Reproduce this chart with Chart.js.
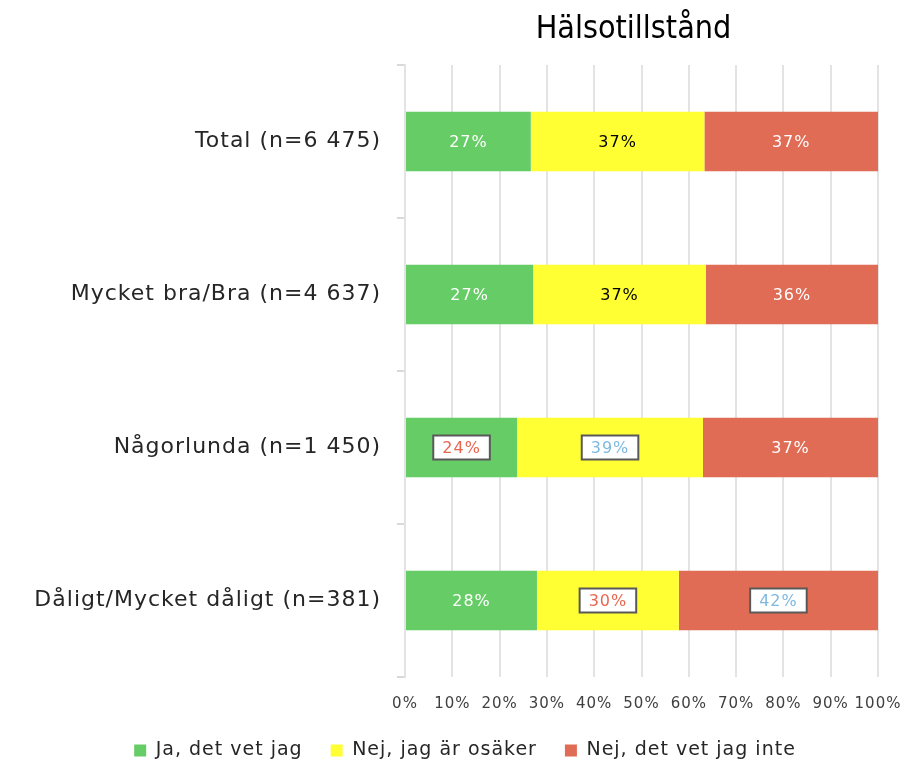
<!DOCTYPE html>
<html>
<head>
<meta charset="utf-8">
<script src="https://cdn.jsdelivr.net/npm/chart.js@4/dist/chart.umd.min.js"></script>
<style>
  html, body { margin: 0; padding: 0; background: #fff; }
  #wrap { width: 903px; height: 760px; position: relative; }
</style>
</head>
<body>
<div id="wrap"><canvas id="chart"></canvas></div>
<script>
// Data
const titel = 'Hälsotillstånd';
const kategorier = ['Total (n=6 475)', 'Mycket bra/Bra (n=4 637)', 'Någorlunda (n=1 450)', 'Dåligt/Mycket dåligt (n=381)'];
const serieNamn = ['Ja, det vet jag', 'Nej, jag är osäker', 'Nej, det vet jag inte'];
const jaVetJag = [26.6, 27.1, 23.7, 27.9];
const osaker = [36.7, 36.5, 39.3, 30.0];
const vetInte = [36.7, 36.4, 37.0, 42.1];
// signifikans: -1 = lägre (röd), 1 = högre (blå), 0 = ingen
const sigJa = [0, 0, -1, 0];
const sigOsaker = [0, 0, 1, -1];
const sigVetInte = [0, 0, 0, 1];
const xTicks = [0, 10, 20, 30, 40, 50, 60, 70, 80, 90, 100];

const FONT = "'DejaVu Sans', sans-serif";
const farger = ['#66CC66', '#FFFF33', '#E06C55'];
const etikettFarger = ['#ffffff', '#000000', '#ffffff'];
const signifikans = [sigJa, sigOsaker, sigVetInte];

// Bredare teckenavstånd (liknar originalets typsnitt)
const spacingPlugin = {
    id: 'spacing',
    beforeLayout(chart) { chart.ctx.letterSpacing = '1px'; },
    beforeDraw(chart) { chart.ctx.letterSpacing = '1px'; },
    afterLayout(chart) {
        // flytta förklaringen lite uppåt och åt höger
        const l = chart.legend;
        l.top -= 4;
        l.left += 26; l.right += 26;
    }
};

// Etiketter i staplarna
const etikettPlugin = {
    id: 'etiketter',
    afterDatasetsDraw(chart) {
        const ctx = chart.ctx;
        ctx.save();
        ctx.font = '16px ' + FONT;
        ctx.textAlign = 'center';
        ctx.textBaseline = 'middle';
        chart.data.datasets.forEach((ds, i) => {
            const meta = chart.getDatasetMeta(i);
            meta.data.forEach((bar, j) => {
                const text = Math.round(ds.data[j]) + '%';
                const x = (bar.x + bar.base) / 2;
                const y = bar.y;
                const sig = signifikans[i][j];
                if (sig !== 0) {
                    const w = ctx.measureText(text).width + 18;
                    const h = 24;
                    ctx.fillStyle = '#ffffff';
                    ctx.fillRect(x - w / 2, y - h / 2, w, h);
                    ctx.strokeStyle = '#595959';
                    ctx.lineWidth = 2;
                    ctx.strokeRect(x - w / 2, y - h / 2, w, h);
                    ctx.fillStyle = sig < 0 ? '#E8664F' : '#7DB9E0';
                } else {
                    ctx.fillStyle = etikettFarger[i];
                }
                ctx.fillText(text, x, y + 1);
            });
        });
        ctx.restore();
    }
};

// Titel centrerad över diagramytan
const titelPlugin = {
    id: 'titel',
    afterDraw(chart) {
        const ctx = chart.ctx;
        const area = chart.chartArea;
        ctx.save();
        ctx.letterSpacing = '0px';
        ctx.font = "32px 'Liberation Sans Narrow', 'DejaVu Sans Condensed', " + FONT;
        ctx.fillStyle = '#000000';
        ctx.textAlign = 'center';
        ctx.textBaseline = 'middle';
        ctx.fillText(titel, (area.left + area.right) / 2 - 8, 30);
        ctx.restore();
    }
};

const ctx = document.getElementById('chart').getContext('2d');
new Chart(ctx, {
    type: 'bar',
    data: {
        labels: kategorier,
        datasets: [
            { label: serieNamn[0], data: jaVetJag, backgroundColor: farger[0] },
            { label: serieNamn[1], data: osaker, backgroundColor: farger[1] },
            { label: serieNamn[2], data: vetInte, backgroundColor: farger[2] }
        ]
    },
    options: {
        indexAxis: 'y',
        responsive: true,
        maintainAspectRatio: false,
        animation: false,
        datasets: {
            bar: { barPercentage: 0.39, categoryPercentage: 1 }
        },
        layout: {
            padding: { top: 65, right: 25, left: 0, bottom: 0 }
        },
        scales: {
            x: {
                stacked: true,
                min: 0,
                max: 100,
                afterBuildTicks: (scale) => { scale.ticks = xTicks.map(v => ({ value: v })); },
                grid: { color: '#E3E3E3', lineWidth: 2, drawTicks: false },
                border: { display: false },
                ticks: {
                    callback: (v) => v + '%',
                    color: '#404040',
                    font: { family: FONT, size: 15 },
                    padding: 18,
                    maxRotation: 0,
                    autoSkip: false
                },
                afterFit: (scale) => {
                    scale.height = 40;
                    scale.paddingLeft = 0;
                    scale.paddingRight = 0;
                }
            },
            y: {
                stacked: true,
                grid: { drawOnChartArea: false, color: '#D9D9D9', lineWidth: 2, tickLength: 8 },
                border: { display: true, color: '#E3E3E3', width: 2 },
                ticks: {
                    color: '#262626',
                    font: { family: FONT, size: 22 },
                    padding: 16
                },
                afterFit: (scale) => { scale.width = 405; }
            }
        },
        plugins: {
            title: { display: false },
            tooltip: { enabled: false },
            legend: {
                position: 'bottom',
                maxHeight: 43,
                labels: {
                    boxWidth: 12,
                    boxHeight: 12,
                    padding: 28,
                    color: '#262626',
                    font: { family: FONT, size: 19 }
                }
            }
        }
    },
    plugins: [spacingPlugin, etikettPlugin, titelPlugin]
});
</script>
</body>
</html>
